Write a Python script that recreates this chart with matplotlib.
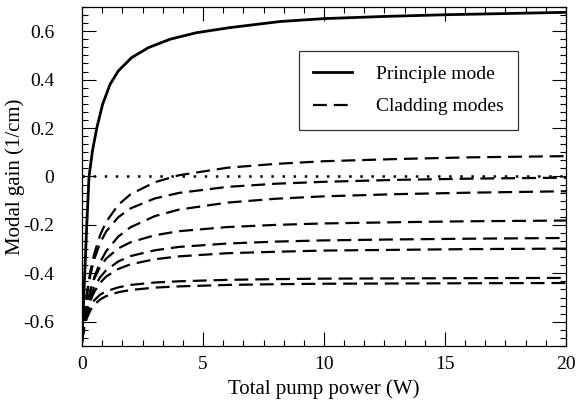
import numpy as np
import matplotlib
matplotlib.use('Agg')
import matplotlib.pyplot as plt
from matplotlib.ticker import MultipleLocator, AutoMinorLocator, FuncFormatter

plt.rcParams['font.family'] = ['Liberation Serif', 'DejaVu Serif']
plt.rcParams['lines.scale_dashes'] = False

# principal mode
px = [0, 0.1, 0.2, 0.29, 0.43, 0.61, 0.85, 1.16, 1.5, 2.05, 2.74, 3.64, 4.74, 6.12, 8.18, 10, 12.5, 15, 17.5, 20]
py = [-0.68, -0.43, -0.19, 0.0, 0.105, 0.2, 0.298, 0.381, 0.436, 0.491, 0.532, 0.567, 0.594, 0.615, 0.640, 0.652, 0.661, 0.668, 0.673, 0.678]

# cladding modes
cx = [0, 0.1, 0.2, 0.35, 0.5, 0.75, 1, 1.5, 2, 3, 4, 6, 8, 10, 13, 16, 20]
clad1 = [-0.68, -0.567, -0.483, -0.389, -0.321, -0.242, -0.187, -0.117, -0.074, -0.024, 0.005, 0.036, 0.052, 0.063, 0.072, 0.079, 0.084]
clad2 = [-0.68, -0.570, -0.490, -0.404, -0.343, -0.274, -0.227, -0.168, -0.132, -0.091, -0.068, -0.043, -0.030, -0.022, -0.014, -0.009, -0.005]
clad3 = [-0.68, -0.602, -0.541, -0.471, -0.418, -0.354, -0.308, -0.248, -0.210, -0.164, -0.137, -0.108, -0.092, -0.082, -0.073, -0.067, -0.061]
clad4 = [-0.68, -0.595, -0.534, -0.469, -0.424, -0.373, -0.339, -0.297, -0.272, -0.243, -0.226, -0.209, -0.200, -0.194, -0.189, -0.185, -0.182]
clad5 = [-0.68, -0.606, -0.553, -0.498, -0.459, -0.416, -0.387, -0.351, -0.329, -0.305, -0.291, -0.277, -0.269, -0.264, -0.260, -0.257, -0.254]
clad6 = [-0.68, -0.611, -0.563, -0.512, -0.478, -0.439, -0.413, -0.382, -0.363, -0.342, -0.330, -0.317, -0.311, -0.306, -0.303, -0.300, -0.298]
clad7 = [-0.68, -0.612, -0.571, -0.534, -0.512, -0.488, -0.474, -0.458, -0.448, -0.438, -0.433, -0.427, -0.424, -0.422, -0.421, -0.420, -0.419]
clad8 = [-0.68, -0.621, -0.585, -0.552, -0.530, -0.508, -0.494, -0.478, -0.469, -0.459, -0.454, -0.448, -0.445, -0.443, -0.442, -0.441, -0.440]
zero_level = 0

fig = plt.figure(figsize=(5.76, 4.07), dpi=100)
ax = fig.add_axes([0.1424, 0.150, 0.8402, 0.8328])

ax.axhline(zero_level, color='black', lw=1.8, linestyle=(0, (1.8, 6.2)))
for c in [clad1, clad2, clad3, clad4, clad5, clad6, clad7, clad8]:
    ax.plot(cx, c, color='black', lw=1.6, dashes=(10, 5))
ax.plot(px, py, color='black', lw=2.0, label='Principle mode')
ax.plot([], [], color='black', lw=1.6, dashes=(10, 5), label='Cladding modes')

ax.set_xlim(0, 20)
ax.set_ylim(-0.7, 0.7)
ax.xaxis.set_major_locator(MultipleLocator(5))
ax.xaxis.set_minor_locator(AutoMinorLocator(6))
ax.yaxis.set_major_locator(MultipleLocator(0.2))
ax.yaxis.set_minor_locator(AutoMinorLocator(6))
ax.yaxis.set_major_formatter(FuncFormatter(lambda v, p: '%g' % round(v, 2)))
ax.tick_params(which='both', direction='in', top=True, right=True, labelsize=14, width=0.8)
ax.tick_params(which='major', length=10)
ax.tick_params(axis='x', which='major', pad=7)
ax.tick_params(axis='y', which='major', pad=20)
ax.tick_params(which='minor', length=4)
for s in ax.spines.values():
    s.set_linewidth(0.9)

ax.set_xlabel('Total pump power (W)', fontsize=15, labelpad=5)
ax.set_ylabel('Modal gain (1/cm)', fontsize=15)
ax.yaxis.set_label_coords(-0.118, 0.5)

leg = ax.legend(loc='upper left', bbox_to_anchor=(0.448, 0.870), borderaxespad=0,
                fontsize=14, fancybox=False, frameon=True, edgecolor='black',
                handlelength=2.0, handletextpad=1.2, borderpad=0.75, labelspacing=0.75)
leg.get_frame().set_linewidth(0.9)

fig.savefig('out.png', dpi=100)
